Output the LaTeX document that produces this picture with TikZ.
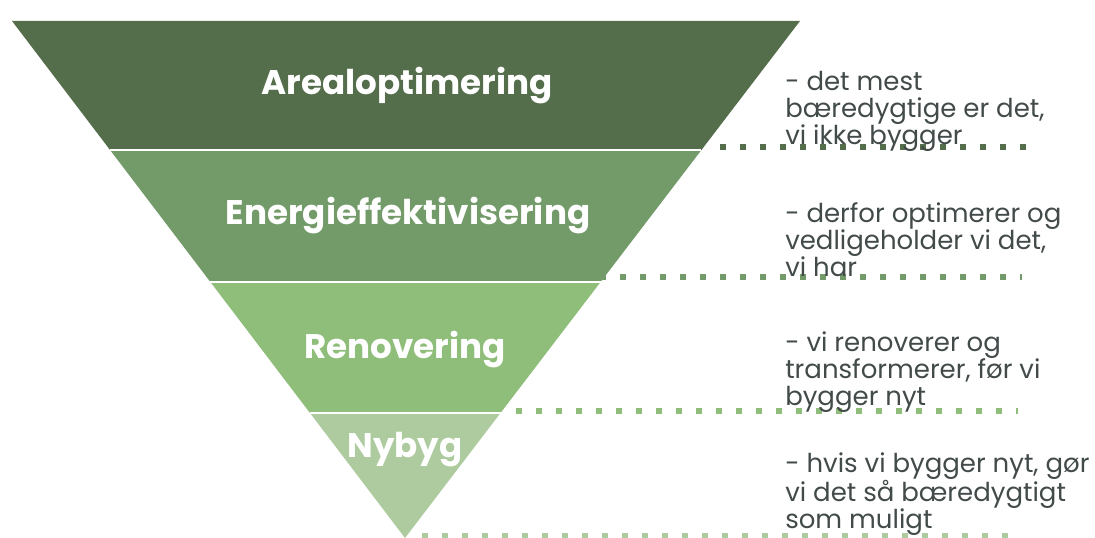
\documentclass[tikz,border=0pt]{standalone}
\usepackage{fontspec}
\setmainfont{Poppins}
\usetikzlibrary{calc}

\definecolor{bandA}{RGB}{84,110,75}
\definecolor{bandB}{RGB}{115,155,106}
\definecolor{bandC}{RGB}{143,189,122}
\definecolor{bandD}{RGB}{173,203,158}
\definecolor{notegray}{RGB}{66,74,74}

\tikzset{
  bandlabel/.style={text=white, font=\bfseries\fontsize{25.6}{28}\selectfont, inner sep=0pt},
  note/.style={anchor=west, align=left, text=notegray, inner sep=0pt,
    font=\fontsize{19.5}{20.25}\selectfont},
  dots/.style={line width=4.5pt, dash pattern=on 4.5pt off 10.5pt}
}

\begin{document}
\begin{tikzpicture}[x=0.75pt, y=-0.75pt]
    \useasboundingbox (0,0) rectangle (1095,538);

    % Triangle
    \coordinate (tl) at (12,21);
    \coordinate (tr) at (800,21);
    \coordinate (apex) at (405,538);
    \foreach \n/\t in {a/0.2495, b/0.5048, c/0.7582}{
        \coordinate (l\n) at ($(tl)!\t!(apex)$);
        \coordinate (r\n) at ($(tr)!\t!(apex)$);
    }

    % Bands
    \fill[bandA] (tl) -- (tr) -- (ra) -- (la) -- cycle;
    \fill[bandB] (la) -- (ra) -- (rb) -- (lb) -- cycle;
    \fill[bandC] (lb) -- (rb) -- (rc) -- (lc) -- cycle;
    \fill[bandD] (lc) -- (rc) -- (apex) -- cycle;
    \draw[white, line width=1.5pt] (la) -- (ra) (lb) -- (rb) (lc) -- (rc);

    % Band labels
    \node[bandlabel] (areal) at (407,86) {Arealoptimering};
    \node[bandlabel] (energi) at (408,216) {Energieffektivisering};
    \node[bandlabel] (renov) at (405,350) {Renovering};
    \node[bandlabel] (nybyg) at (405,450) {Nybyg};

    % Dotted lines
    \coordinate (da1) at (720,147);  \coordinate (da2) at (1036,147);
    \coordinate (db1) at (600,277);  \coordinate (db2) at (1022,277);
    \coordinate (dc1) at (516,411);  \coordinate (dc2) at (1018,411);
    \coordinate (dd1) at (422,536);  \coordinate (dd2) at (1018,536);
    \draw[dots, bandA] (da1) -- (da2);
    \draw[dots, bandB] (db1) -- (db2);
    \draw[dots, bandC] (dc1) -- (dc2);
    \draw[dots, bandD] (dd1) -- (dd2);

    % Notes
    \node[note] (noteA) at (785,111) {- det mest\\bæredygtige er det,\\vi ikke bygger};
    \node[note] (noteB) at (785,240) {- derfor optimerer og\\vedligeholder vi det,\\vi har};
    \node[note] (noteC) at (785,372) {- vi renoverer og\\transformerer, før vi\\bygger nyt};
    \node[note] (noteD) at (785,494) {- hvis vi bygger nyt, gør\\vi det så bæredygtigt\\som muligt};
\end{tikzpicture}
\end{document}
